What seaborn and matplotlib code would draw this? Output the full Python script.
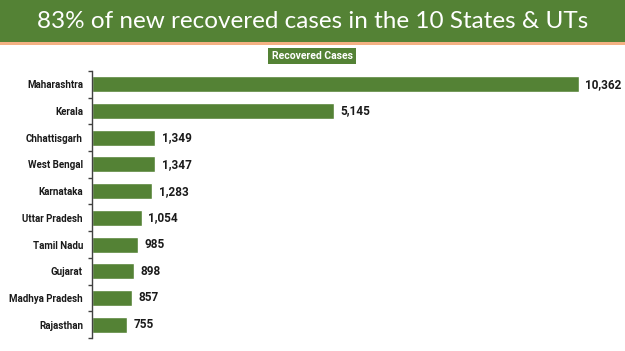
import numpy as np
import pandas as pd
import matplotlib.pyplot as plt
import matplotlib as mpl
import seaborn as sns
from matplotlib.patches import Rectangle

sns.set_style("white")
plt.rcParams['font.family'] = ['Roboto', 'DejaVu Sans']

GREEN = '#548235'
ORANGE = '#F4B183'

states = ['Maharashtra', 'Kerala', 'Chhattisgarh', 'West Bengal', 'Karnataka',
          'Uttar Pradesh', 'Tamil Nadu', 'Gujarat', 'Madhya Pradesh', 'Rajasthan']
recovered = [10362, 5145, 1349, 1347, 1283, 1054, 985, 898, 857, 755]

df = pd.DataFrame({'state': states, 'recovered': recovered})

fig = plt.figure(figsize=(6.25, 3.51), dpi=100, facecolor='white')

# title banner
fig.patches.append(Rectangle((0, 1 - 42 / 351), 1, 42 / 351, transform=fig.transFigure,
                             facecolor=GREEN, edgecolor='none', zorder=0))
fig.patches.append(Rectangle((0, 1 - 45 / 351), 1, 3 / 351, transform=fig.transFigure,
                             facecolor=ORANGE, edgecolor='none', zorder=0))
fig.text(0.5, 1 - 21 / 351, '83% of new recovered cases in the 10 States & UTs',
         ha='center', va='center', color='white', fontsize=17.5, family=['Lato', 'DejaVu Sans'])

# legend box
fig.text(312 / 625, 1 - 56 / 351, 'Recovered Cases', ha='center', va='center',
         color='white', fontsize=7.5, fontweight='bold',
         bbox=dict(boxstyle='square,pad=0.3', facecolor=GREEN, edgecolor='none'))

ax = fig.add_axes([92 / 625, 1 - 338 / 351, 528 / 625, 267 / 351])
sns.barplot(data=df, y='state', x='recovered', orient='h', color=GREEN,
            width=0.6, saturation=1, ax=ax)
ax.set_xlim(0, 528 / (487 / 10362))
ax.set_ylim(len(states) - 0.5, -0.5)
ax.set_xlabel('')
ax.set_ylabel('')
ax.set_xticks([])
for s in ['top', 'right', 'bottom']:
    ax.spines[s].set_visible(False)
ax.spines['left'].set_color('#404040')
ax.spines['left'].set_linewidth(1)

ax.tick_params(axis='y', which='major', length=0, pad=6.5, labelsize=7)
for lbl in ax.get_yticklabels():
    lbl.set_fontweight('bold')
    lbl.set_color('#1a1a1a')
ax.set_yticks(np.arange(-0.5, len(states), 1), minor=True)
ax.tick_params(axis='y', which='minor', length=3, width=1, color='#404040', left=True)

for i, v in enumerate(recovered):
    ax.annotate(f'{v:,}', (v, i), xytext=(4.5, 0), textcoords='offset points',
                va='center', ha='left', fontsize=8.5, fontweight='bold', color='#1a1a1a')

fig.savefig('out.png', dpi=100, facecolor='white')
